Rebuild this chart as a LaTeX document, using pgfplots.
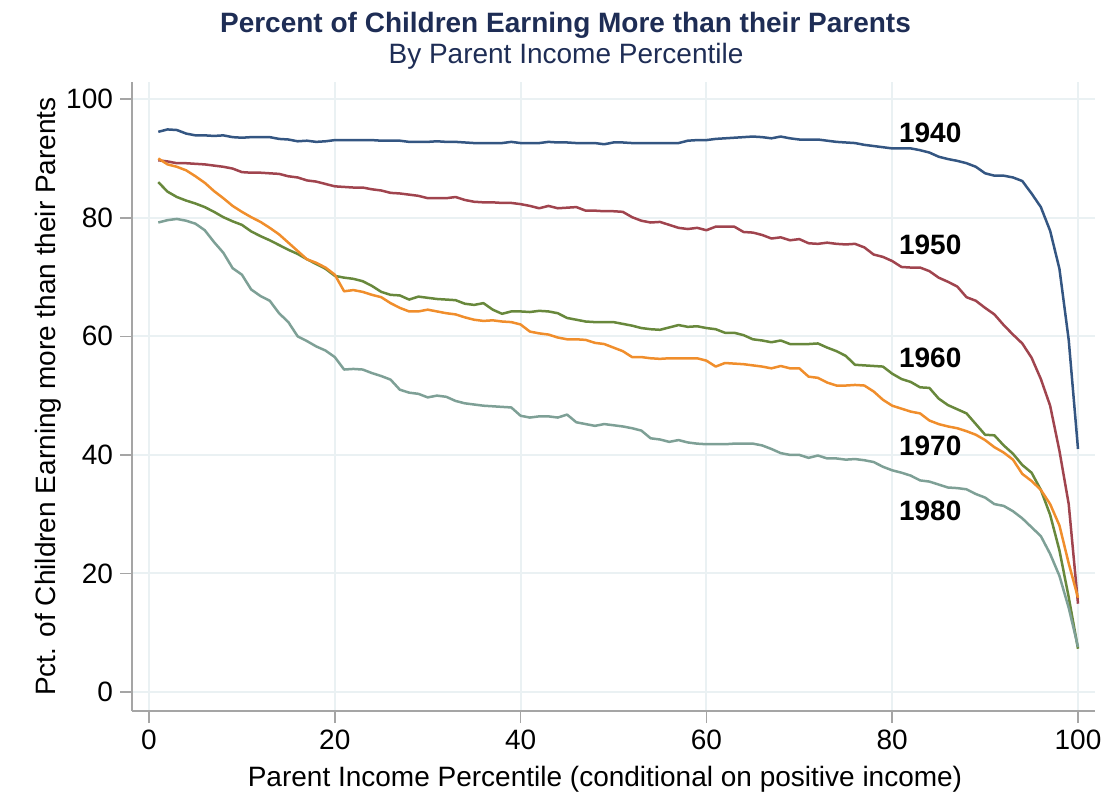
\documentclass[border=0pt]{standalone}
\usepackage{fontspec}
\setmainfont{Liberation Sans}
\usepackage{pgfplots}
\usepackage{pgfplotstable}
\pgfplotsset{compat=1.18}
\definecolor{c40}{RGB}{52,86,130}
\definecolor{c50}{RGB}{160,68,78}
\definecolor{c60}{RGB}{104,136,60}
\definecolor{c70}{RGB}{240,142,44}
\definecolor{c80}{RGB}{126,160,150}
\definecolor{ttl}{RGB}{30,45,85}
\definecolor{axgray}{RGB}{165,165,165}
\definecolor{gridc}{RGB}{234,241,243}
\newcommand{\fs}{\fontsize{14}{16.8}\selectfont}
\pgfplotstableread{
p a b c d e
1 94.5 89.7 86.0 90.0 79.2
2 94.9 89.5 84.4 89.0 79.6
3 94.8 89.2 83.5 88.6 79.8
4 94.2 89.2 82.9 88.0 79.5
5 93.9 89.1 82.4 87.0 79.0
6 93.9 89.0 81.8 85.9 77.9
7 93.8 88.8 81.0 84.5 75.9
8 93.9 88.6 80.1 83.3 74.1
9 93.6 88.3 79.4 82.0 71.5
10 93.5 87.7 78.8 81.0 70.4
11 93.6 87.6 77.7 80.1 67.9
12 93.6 87.6 76.9 79.3 66.8
13 93.6 87.5 76.2 78.3 66.0
14 93.3 87.4 75.4 77.2 63.9
15 93.2 87.0 74.6 75.8 62.4
16 92.9 86.8 73.9 74.4 60.0
17 93.0 86.3 73.0 73.0 59.2
18 92.8 86.1 72.2 72.4 58.3
19 92.9 85.7 71.4 71.6 57.6
20 93.1 85.3 70.2 70.4 56.5
21 93.1 85.2 69.9 67.6 54.4
22 93.1 85.1 69.7 67.8 54.5
23 93.1 85.1 69.3 67.5 54.4
24 93.1 84.8 68.5 67.0 53.8
25 93.0 84.6 67.5 66.6 53.3
26 93.0 84.2 67.0 65.6 52.7
27 93.0 84.1 66.9 64.8 51.0
28 92.8 83.9 66.2 64.2 50.5
29 92.8 83.7 66.7 64.2 50.3
30 92.8 83.3 66.5 64.5 49.7
31 92.9 83.3 66.3 64.2 50.0
32 92.8 83.3 66.2 63.9 49.8
33 92.8 83.5 66.1 63.7 49.1
34 92.7 83.0 65.5 63.2 48.7
35 92.6 82.7 65.3 62.8 48.5
36 92.6 82.6 65.6 62.6 48.3
37 92.6 82.6 64.5 62.7 48.2
38 92.6 82.5 63.8 62.5 48.1
39 92.8 82.5 64.2 62.4 48.0
40 92.6 82.3 64.2 62.0 46.6
41 92.6 82.0 64.1 60.8 46.3
42 92.6 81.6 64.3 60.5 46.5
43 92.8 82.0 64.2 60.3 46.5
44 92.7 81.6 63.9 59.8 46.3
45 92.7 81.7 63.1 59.5 46.8
46 92.6 81.8 62.8 59.5 45.5
47 92.6 81.2 62.5 59.4 45.2
48 92.6 81.2 62.4 58.9 44.9
49 92.4 81.1 62.4 58.7 45.2
50 92.7 81.1 62.4 58.1 45.0
51 92.7 81.0 62.1 57.5 44.8
52 92.6 80.1 61.8 56.5 44.5
53 92.6 79.5 61.4 56.5 44.1
54 92.6 79.2 61.2 56.3 42.8
55 92.6 79.3 61.1 56.2 42.6
56 92.6 78.8 61.5 56.3 42.2
57 92.6 78.3 61.9 56.3 42.5
58 93.0 78.1 61.6 56.3 42.1
59 93.1 78.3 61.7 56.3 41.9
60 93.1 77.9 61.4 55.9 41.8
61 93.3 78.5 61.2 54.9 41.8
62 93.4 78.5 60.6 55.5 41.8
63 93.5 78.5 60.6 55.4 41.9
64 93.6 77.6 60.2 55.3 41.9
65 93.7 77.5 59.5 55.1 41.9
66 93.6 77.1 59.3 54.9 41.6
67 93.4 76.5 59.0 54.6 41.0
68 93.7 76.7 59.3 55.0 40.3
69 93.4 76.2 58.7 54.6 40.0
70 93.2 76.4 58.7 54.6 40.0
71 93.2 75.7 58.7 53.2 39.5
72 93.2 75.6 58.8 53.0 39.9
73 93.0 75.8 58.1 52.2 39.4
74 92.8 75.6 57.5 51.7 39.4
75 92.7 75.5 56.7 51.7 39.2
76 92.6 75.6 55.2 51.8 39.3
77 92.3 75.0 55.1 51.7 39.1
78 92.1 73.8 55.0 50.7 38.8
79 91.9 73.4 54.9 49.3 38.0
80 91.7 72.7 53.7 48.3 37.4
81 91.7 71.7 52.8 47.8 37.0
82 91.7 71.6 52.3 47.3 36.5
83 91.4 71.6 51.4 47.0 35.7
84 91.0 71.0 51.3 45.8 35.5
85 90.3 69.9 49.5 45.2 35.0
86 89.9 69.2 48.4 44.8 34.5
87 89.6 68.4 47.7 44.5 34.4
88 89.2 66.6 47.0 44.0 34.2
89 88.6 66.0 45.2 43.4 33.4
90 87.5 64.8 43.4 42.5 32.8
91 87.1 63.7 43.3 41.3 31.7
92 87.1 61.9 41.6 40.4 31.4
93 86.8 60.3 40.2 39.2 30.5
94 86.2 58.8 38.3 36.8 29.3
95 84.1 56.4 37.0 35.6 27.8
96 81.8 52.8 34.1 34.1 26.3
97 77.8 48.3 29.9 31.7 23.3
98 71.4 40.7 23.9 28.1 19.6
99 59.4 31.7 16.0 21.7 14.2
100 41.0 14.9 7.3 15.9 7.6
}\datatable
\begin{document}
\begin{tikzpicture}
\begin{axis}[
  name=ax,
  scale only axis,
  width=481.5pt, height=314.5pt,
  xmin=-1.83, xmax=101.83, ymin=-3.2, ymax=102.9,
  axis lines*=left,
  axis line style={draw=axgray, line width=0.8pt},
  xtick={0,20,...,100}, ytick={0,20,...,100},
  grid=major,
  major grid style={draw=gridc, line width=1pt},
  tick align=outside,
  major tick length=6pt,
  tick style={draw=axgray, line width=0.8pt},
  ticklabel style={font=\fs},
  /pgf/number format/assume math mode=true,
  clip=false,
  every axis plot/.append style={line width=1.25pt, no markers, line join=round},
]
\addplot[c40] table[x=p, y=a] {\datatable};
\addplot[c50] table[x=p, y=b] {\datatable};
\addplot[c60] table[x=p, y=c] {\datatable};
\addplot[c70] table[x=p, y=d] {\datatable};
\addplot[c80] table[x=p, y=e] {\datatable};
\node[anchor=west, inner sep=0pt, font=\fs\bfseries] at (axis cs:80.7,94.4) {1940};
\node[anchor=west, inner sep=0pt, font=\fs\bfseries] at (axis cs:80.7,75.5) {1950};
\node[anchor=west, inner sep=0pt, font=\fs\bfseries] at (axis cs:80.7,56.4) {1960};
\node[anchor=west, inner sep=0pt, font=\fs\bfseries] at (axis cs:80.7,41.5) {1970};
\node[anchor=west, inner sep=0pt, font=\fs\bfseries] at (axis cs:80.7,30.5) {1980};
\end{axis}
\node[anchor=base, inner sep=0pt, font=\fs\bfseries, text=ttl] at ([xshift=216.75pt, yshift=339.5pt]ax.south west) {Percent of Children Earning More than their Parents};
\node[anchor=base, inner sep=0pt, font=\fs, text=ttl] at ([xshift=217pt, yshift=324pt]ax.south west) {By Parent Income Percentile};
\node[anchor=center, inner sep=0pt, font=\fs] at ([xshift=236.5pt, yshift=-34pt]ax.south west) {Parent Income Percentile (conditional on positive income)};
\node[anchor=center, inner sep=0pt, font=\fs, rotate=90] at ([xshift=-42pt, yshift=157.25pt]ax.south west) {Pct. of Children Earning more than their Parents};
\pgfresetboundingbox
\path ([xshift=-66pt, yshift=-50pt]ax.south west) rectangle ([xshift=11.5pt, yshift=41pt]ax.north east);
\end{tikzpicture}
\end{document}
